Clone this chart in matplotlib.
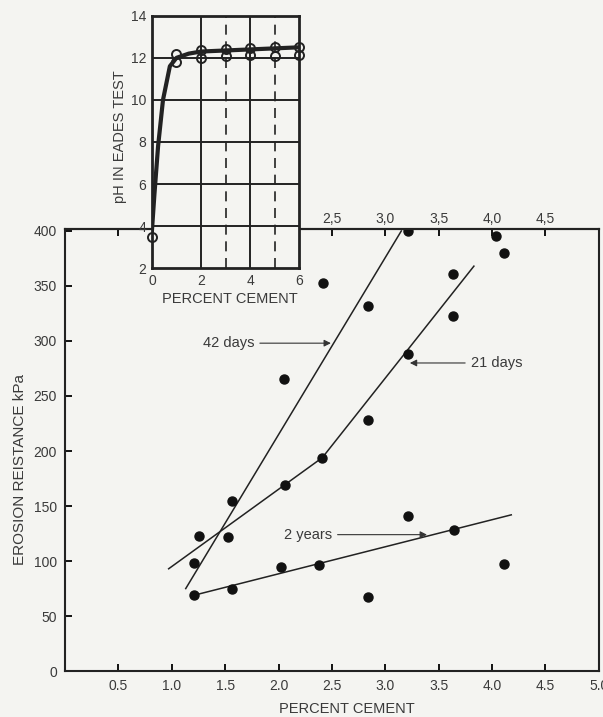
import matplotlib
matplotlib.use("Agg")
import matplotlib.pyplot as plt

plt.rcParams['font.family'] = ['Liberation Sans', 'DejaVu Sans']

# main chart data: erosion resistance vs percent cement
pts_x = [1.25, 1.21, 1.21, 1.56, 1.53, 1.56, 2.06, 2.02, 2.41, 2.38, 3.21, 3.64,
         2.84, 4.11, 3.21, 4.04, 4.11, 2.42, 3.63, 2.84, 3.63, 3.21, 2.84, 2.05]
pts_y = [123, 98, 69, 155, 122, 75, 169, 95, 194, 96, 141, 128,
         67, 97, 400, 395, 380, 353, 361, 332, 323, 288, 228, 265]

# fitted lines
line42_x = [1.13, 3.15]
line42_y = [75, 400]
line21_x = [0.97, 2.41, 3.83]
line21_y = [93, 194, 368]
line2y_x = [1.21, 4.18]
line2y_y = [69, 142]

x_ticks = [0.5, 1.0, 1.5, 2.0, 2.5, 3.0, 3.5, 4.0, 4.5, 5.0]
x_labels = ['0.5', '1.0', '1.5', '2.0', '2.5', '3.0', '3.5', '4.0', '4.5', '5.0']
top_ticks = [0.5, 1.0, 1.5, 2.0, 2.5, 3.0, 3.5, 4.0, 4.5]
top_labels = ['', '', '', '', '2,5', '3,0', '3,5', '4,0', '4,5']
y_ticks = [0, 50, 100, 150, 200, 250, 300, 350, 400]

# inset data: pH in Eades test
ph_curve_x = [0, 0.1, 0.25, 0.45, 0.73, 1.0, 1.5, 2, 3, 4, 5, 6]
ph_curve_y = [3.8, 5.5, 7.8, 10.0, 11.6, 12.0, 12.2, 12.3, 12.35, 12.4, 12.45, 12.5]
ph_pts_x = [0, 1, 1, 2, 2, 3, 3, 4, 4, 5, 5, 6, 6]
ph_pts_y = [3.5, 12.2, 11.8, 12.35, 12.0, 12.4, 12.1, 12.45, 12.15, 12.5, 12.1, 12.5, 12.15]

bg = '#f4f4f1'
txt = '#3a3a3a'

fig = plt.figure(figsize=(6.03, 7.17), dpi=100, facecolor=bg)

# main axes
ax = fig.add_axes([0.108, 0.064, 0.885, 0.617], facecolor=bg)
ax.set_xlim(0, 5.0)
ax.set_ylim(0, 402)
ax.plot(line42_x, line42_y, color='#222222', lw=1.1)
ax.plot(line21_x, line21_y, color='#222222', lw=1.1)
ax.plot(line2y_x, line2y_y, color='#222222', lw=1.1)
ax.plot(pts_x, pts_y, 'o', color='#111111', ms=6.5, ls='none')

arrow = dict(arrowstyle='-|>', color='#333333', lw=0.8, mutation_scale=10, shrinkA=2, shrinkB=0)
ax.annotate('42 days', xy=(2.49, 298), xytext=(1.29, 298), ha='left', va='center',
            fontsize=10.5, color=txt, arrowprops=arrow)
ax.annotate('21 days', xy=(3.23, 280), xytext=(3.80, 280), ha='left', va='center',
            fontsize=10.5, color=txt, arrowprops=arrow)
ax.annotate('2 years', xy=(3.39, 124), xytext=(2.05, 124), ha='left', va='center',
            fontsize=10.5, color=txt, arrowprops=arrow)

ax.set_xticks(x_ticks, labels=x_labels)
ax.set_yticks(y_ticks)
ax.tick_params(direction='in', length=5, width=1.3, labelsize=10, labelcolor=txt, pad=6)
for s in ax.spines.values():
    s.set_linewidth(1.5)
    s.set_color('#222222')
ax.set_xlabel('PERCENT CEMENT', fontsize=10.5, color=txt)
ax.xaxis.set_label_coords(0.528, -0.07)
ax.set_ylabel('EROSION REISTANCE kPa', fontsize=11, color=txt)
ax.yaxis.set_label_coords(-0.071, 0.455)

sec = ax.secondary_xaxis('top')
sec.set_xticks(top_ticks, labels=top_labels)
sec.tick_params(direction='in', length=5, width=1.3, labelsize=10, labelcolor=txt, pad=2)
sec.spines['top'].set_linewidth(1.5)

# inset axes
ins = fig.add_axes([0.252, 0.626, 0.244, 0.352], facecolor=bg)
ins.set_xlim(0, 6)
ins.set_ylim(2, 14)
for v in [4, 6, 8, 10, 12]:
    ins.axhline(v, color='#222222', lw=1.4)
for v in [2, 4]:
    ins.axvline(v, color='#222222', lw=1.4)
for v in [3, 5]:
    ins.axvline(v, color='#222222', lw=1.2, ls=(0, (6, 4)))
ins.plot(ph_curve_x, ph_curve_y, color='#222222', lw=3)
ins.plot(ph_pts_x, ph_pts_y, 'o', mfc='none', mec='#222222', mew=1.4, ms=6.5,
         ls='none', clip_on=False)
ins.set_xticks([0, 2, 4, 6])
ins.set_yticks([2, 4, 6, 8, 10, 12, 14])
ins.tick_params(direction='in', length=0, labelsize=10, labelcolor=txt, pad=4)
for s in ins.spines.values():
    s.set_linewidth(2)
    s.set_color('#222222')
ins.set_xlabel('PERCENT CEMENT', fontsize=10.5, color=txt)
ins.xaxis.set_label_coords(0.53, -0.095)
ins.set_ylabel('pH IN EADES TEST', fontsize=10.5, color=txt)
ins.yaxis.set_label_coords(-0.17, 0.52)

fig.savefig('out.png', dpi=100, facecolor=bg)
